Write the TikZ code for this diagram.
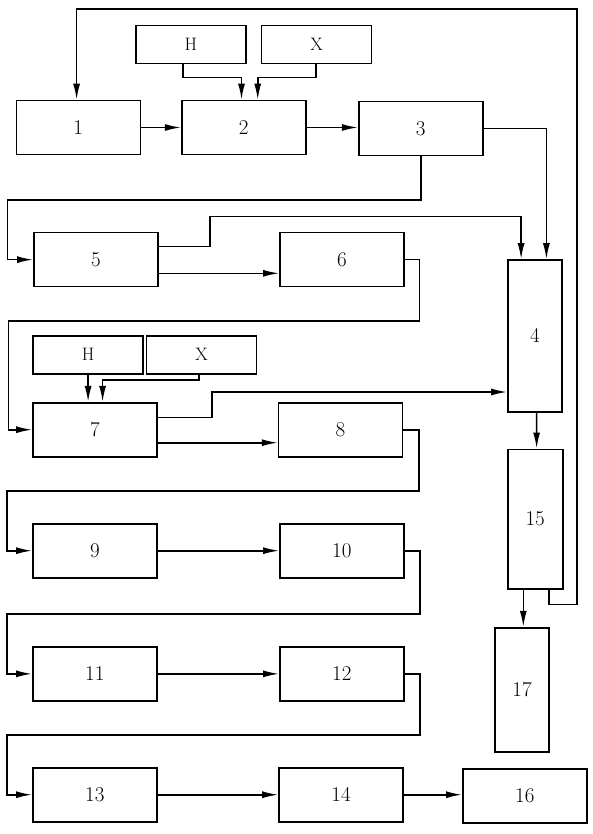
\documentclass[tikz,border=0pt]{standalone}
\usetikzlibrary{arrows.meta}
\begin{document}
\begin{tikzpicture}[x=1pt,y=-1pt,
  box/.style={draw,line width=1.6pt,minimum width=124pt,minimum height=54pt,inner sep=0pt,font=\fontsize{21}{24}\selectfont},
  tallbox/.style={draw,line width=1.6pt,minimum width=54pt,inner sep=0pt,font=\fontsize{21}{24}\selectfont},
  inbox/.style={draw,line width=1.6pt,minimum width=110pt,minimum height=38pt,inner sep=0pt,font=\fontsize{18}{20}\selectfont},
  arr/.style={line width=1.6pt,-{Latex[length=16pt,width=7pt]}},
  ln/.style={line width=1.6pt}]
\useasboundingbox (0,0) rectangle (592,834);
% boxes
\node[box] (b1) at (78.3,127.5) {1};
\node[box] (b2) at (243.75,127.5) {2};
\node[box] (b3) at (420.75,128.7) {3};
\node[inbox] (H1) at (190.75,44.7) {H};
\node[inbox] (X1) at (316.6,44.7) {X};
\node[box] (b5) at (95.85,259.65) {5};
\node[box] (b6) at (341.9,259.65) {6};
\node[tallbox,minimum height=151.7pt] (b4) at (534.9,335.85) {4};
\node[inbox] (H2) at (88.1,354.7) {H};
\node[inbox] (X2) at (201.5,354.7) {X};
\node[box] (b7) at (94.9,429.7) {7};
\node[box] (b8) at (340.55,429.7) {8};
\node[tallbox,minimum height=139.7pt,minimum width=55pt] (b15) at (535.2,519.15) {15};
\node[tallbox,minimum height=124pt] (b17) at (522,689.7) {17};
\node[box] (b16) at (524.85,795.85) {16};
\node[box] (b9) at (94.85,550.7) {9};
\node[box] (b10) at (341.85,550.7) {10};
\node[box] (b11) at (94.85,673.85) {11};
\node[box] (b12) at (341.85,673.85) {12};
\node[box] (b13) at (94.85,794.7) {13};
\node[box] (b14) at (341,794.7) {14};
% connectors
\draw[arr] (b1.east) -- (b2.west);
\draw[arr] (b2.east) -- (b2.east -| b3.west);
\draw[arr] ([xshift=-7.75]H1.south) |- (241.5,77.7) -- (241.5,0 |- b2.north);
\draw[arr] ([xshift=-0.4]X1.south) |- (257.7,77.7) -- (257.7,0 |- b2.north);
\draw[arr] (b3.east) -| ([xshift=11.5]b4.north);
\draw[arr] (b3.south) |- (7.5,200) |- (b5.west);
\draw[arr] ([yshift=13]b5.east) -| (209.8,216.7) -| ([xshift=-13.8]b4.north);
\draw[arr] ([yshift=-13.65]b5.east) -- ([yshift=-13.65]b6.west);
\draw[arr] (b6.east) -| (419.6,320.7) -- (8.3,320.7) |- (b7.west);
\draw[arr] (H2.south) -- (H2.south |- b7.north);
\draw[arr] ([xshift=-2.6]X2.south) |- (102.6,380) -- (102.6,0 |- b7.north);
\draw[arr] ([yshift=12.4]b7.east) -| (211.7,392) -- (b4.west |- 0,392);
\draw[arr] ([yshift=-13]b7.east) -- ([yshift=-13]b8.west);
\draw[arr] ([xshift=1.7]b4.south) -- (536.6,0 |- b15.north);
\draw[arr] (b8.east) -| (419,490.7) -- (6.7,490.7) |- (b9.west);
\draw[arr] (b9.east) -- (b10.west);
\draw[arr] (b10.east) -| (420,614) -- (6.7,614) |- (b11.west);
\draw[arr] (b11.east) -- (b12.west);
\draw[arr] (b12.east) -| (420,735) -- (6.7,735) |- (b13.west);
\draw[arr] (b13.east) -- (b14.west);
\draw[arr] (b14.east) -- (b14.east -| b16.west);
\draw[arr] ([xshift=-11.9]b15.south) -- (523.3,0 |- b17.north);
\draw[arr] ([xshift=13.8]b15.south) |- (576.7,604.3) |- (76.6,9) -- (76.6,0 |- b1.north);
\end{tikzpicture}
\end{document}
